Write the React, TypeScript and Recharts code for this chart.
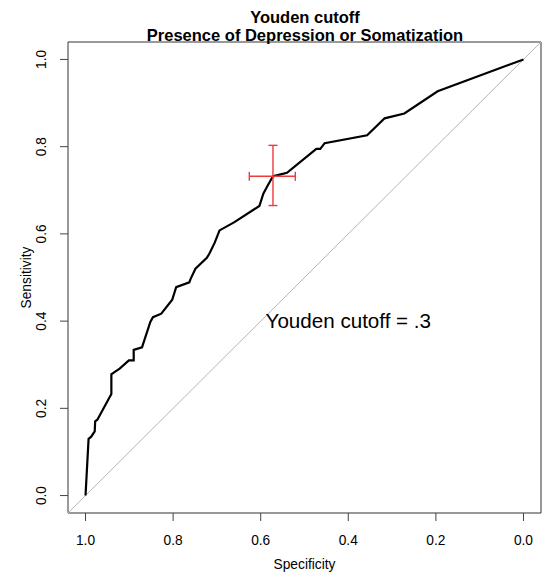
import React from "react";
import {
  ComposedChart,
  Line,
  Scatter,
  ErrorBar,
  XAxis,
  YAxis,
  ReferenceLine,
  ReferenceArea,
  ReferenceDot,
} from "recharts";

// ROC curve points (specificity, sensitivity)
const specificity = [
  1.0, 0.993, 0.987, 0.979, 0.978, 0.973, 0.941, 0.941, 0.934, 0.922, 0.901,
  0.89, 0.89, 0.871, 0.852, 0.846, 0.827, 0.802, 0.793, 0.763, 0.76, 0.749,
  0.723, 0.717, 0.705, 0.694, 0.66, 0.603, 0.594, 0.584, 0.572, 0.54, 0.473,
  0.464, 0.454, 0.357, 0.317, 0.272, 0.196, 0.0,
];
const sensitivity = [
  0.0, 0.13, 0.135, 0.147, 0.17, 0.174, 0.233, 0.278, 0.283, 0.291, 0.31,
  0.31, 0.334, 0.34, 0.398, 0.409, 0.417, 0.449, 0.478, 0.489, 0.497, 0.52,
  0.545, 0.555, 0.58, 0.608, 0.627, 0.664, 0.692, 0.711, 0.732, 0.74, 0.795,
  0.795, 0.808, 0.826, 0.865, 0.876, 0.927, 1.0,
];

// Youden point with its confidence interval
const cutSpec = 0.572;
const cutSens = 0.732;
const cutSpecInterval = [0.521, 0.626];
const cutSensInterval = [0.665, 0.803];

const ticks = [0, 0.2, 0.4, 0.6, 0.8, 1.0];
const tickLabels = ["0.0", "0.2", "0.4", "0.6", "0.8", "1.0"];

const titleLines = ["Youden cutoff", "Presence of Depression or Somatization"];
const annotation = "Youden cutoff = .3";

const rocData = specificity.map((s, i) => ({ spec: s, sens: sensitivity[i] }));
const cutData = [
  {
    spec: cutSpec,
    sens: cutSens,
    ex: [cutSpec - cutSpecInterval[0], cutSpecInterval[1] - cutSpec],
    ey: [cutSens - cutSensInterval[0], cutSensInterval[1] - cutSens],
  },
];

const FONT = "'Liberation Sans', Arial, Helvetica, sans-serif";
const W = 542;
const H = 578;
const DOMAIN: [number, number] = [-0.04, 1.04];

const labelFor = (v: number) => tickLabels[ticks.findIndex((t) => Math.abs(t - v) < 1e-6)];

const XTick = ({ x, y, payload }: any) => (
  <text x={x} y={y + 24} textAnchor="middle" fontSize={13.75} fontFamily={FONT} fill="#000">
    {labelFor(payload.value)}
  </text>
);

const YTick = ({ x, y, payload }: any) => (
  <text
    x={x - 14}
    y={y}
    transform={`rotate(-90 ${x - 14} ${y})`}
    textAnchor="middle"
    fontSize={13.75}
    fontFamily={FONT}
    fill="#000"
  >
    {labelFor(payload.value)}
  </text>
);

export default function App() {
  return (
    <div style={{ position: "relative", width: W, height: H }}>
      <style>{"body{margin:0}"}</style>
      <ComposedChart width={W} height={H} margin={{ top: 42, right: 1, bottom: 0, left: 0 }}>
        <XAxis
          type="number"
          dataKey="spec"
          domain={DOMAIN}
          reversed
          ticks={ticks}
          allowDataOverflow
          axisLine={false}
          tickSize={8}
          tickMargin={0}
          tickLine={{ stroke: "#444" }}
          tick={<XTick />}
          height={65}
          label={{
            content: ({ viewBox }: any) => (
              <text
                x={viewBox.x + viewBox.width / 2}
                y={viewBox.y + 56}
                textAnchor="middle"
                fontSize={13.75}
                fontFamily={FONT}
                fill="#000"
              >
                Specificity
              </text>
            ),
          }}
        />
        <YAxis
          type="number"
          dataKey="sens"
          domain={DOMAIN}
          ticks={ticks}
          allowDataOverflow
          axisLine={false}
          tickSize={8}
          tickMargin={0}
          tickLine={{ stroke: "#444" }}
          tick={<YTick />}
          width={68}
          label={{
            content: ({ viewBox }: any) => {
              const cx = 31;
              const cy = viewBox.y + viewBox.height / 2;
              return (
                <text
                  x={cx}
                  y={cy}
                  transform={`rotate(-90 ${cx} ${cy})`}
                  textAnchor="middle"
                  fontSize={13.75}
                  fontFamily={FONT}
                  fill="#000"
                >
                  Sensitivity
                </text>
              );
            },
          }}
        />
        <ReferenceLine
          segment={[
            { x: DOMAIN[1], y: DOMAIN[0] },
            { x: DOMAIN[0], y: DOMAIN[1] },
          ]}
          stroke="#b5b5b5"
          strokeWidth={1}
          ifOverflow="visible"
        />
        <Line
          data={rocData}
          dataKey="sens"
          type="linear"
          stroke="#000"
          strokeWidth={2.2}
          dot={false}
          isAnimationActive={false}
        />
        <Scatter data={cutData} dataKey="sens" shape={() => <g />} isAnimationActive={false}>
          <ErrorBar dataKey="ex" direction="x" width={4.5} stroke="#ec3b3b" strokeWidth={1.4} />
          <ErrorBar dataKey="ey" direction="y" width={4.5} stroke="#ec3b3b" strokeWidth={1.4} />
        </Scatter>
        <ReferenceDot
          x={0.4}
          y={0.4}
          r={0}
          fill="none"
          stroke="none"
          label={{ value: annotation, position: "center", fontSize: 20.6, fill: "#000", fontFamily: FONT }}
        />
        <ReferenceArea
          x1={DOMAIN[0]}
          x2={DOMAIN[1]}
          y1={DOMAIN[0]}
          y2={DOMAIN[1]}
          fill="none"
          fillOpacity={0}
          stroke="#333"
          strokeWidth={1}
          ifOverflow="visible"
        />
      </ComposedChart>
      <svg width={W} height={H} style={{ position: "absolute", left: 0, top: 0, pointerEvents: "none" }}>
        <text x={305} y={22.5} textAnchor="middle" fontSize={16.5} fontWeight="bold" fontFamily={FONT}>
          {titleLines[0]}
        </text>
        <text x={305} y={41} textAnchor="middle" fontSize={16.5} fontWeight="bold" fontFamily={FONT}>
          {titleLines[1]}
        </text>
      </svg>
    </div>
  );
}
